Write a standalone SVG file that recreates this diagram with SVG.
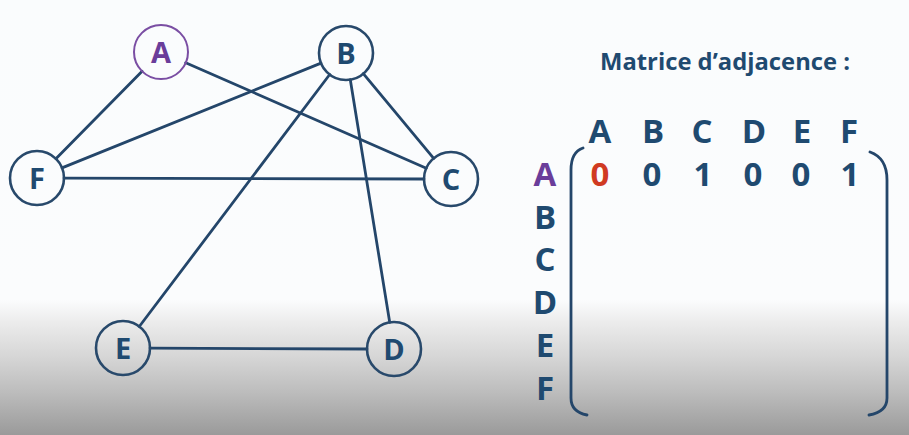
<svg xmlns="http://www.w3.org/2000/svg" width="909" height="435" viewBox="0 0 909 435">
<defs>
<linearGradient id="bg" x1="0" y1="0" x2="0" y2="435" gradientUnits="userSpaceOnUse">
<stop offset="0" stop-color="#fafcfd"/>
<stop offset="0.69" stop-color="#fbfcfd"/>
<stop offset="0.74" stop-color="#ececec"/>
<stop offset="0.82" stop-color="#d6d6d6"/>
<stop offset="0.9" stop-color="#bdbdbd"/>
<stop offset="1" stop-color="#9a9a9a"/>
</linearGradient>
<style>
.n{fill:none;stroke:#28496b;stroke-width:2.6}
.na{fill:none;stroke:#7a4ea3;stroke-width:2}
.e{stroke:#24466a;stroke-width:2.8;fill:none;stroke-linecap:round}
.t{font-family:"Open Sans","Noto Sans",sans-serif;font-weight:700;fill:#1f4a70;text-anchor:middle}
.nl{font-size:29px}
.m{font-size:33px}
.br{fill:none;stroke:#24466a;stroke-width:2.8;stroke-linecap:round}
</style>
</defs>
<rect x="0" y="0" width="909" height="435" fill="url(#bg)"/>
<g id="connectors">
<line class="e" x1="142.1" y1="71.2" x2="55.9" y2="158.8"/>
<line class="e" x1="185.7" y1="62.8" x2="426.3" y2="168.2"/>
<line class="e" x1="321" y1="63.1" x2="62" y2="167.9"/>
<line class="e" x1="329.7" y1="74.5" x2="139.3" y2="326.5"/>
<line class="e" x1="350.3" y1="79.7" x2="389.7" y2="322.3"/>
<line class="e" x1="363.3" y1="73.7" x2="433.7" y2="158.3"/>
<line class="e" x1="64" y1="178.1" x2="424" y2="179"/>
<line class="e" x1="150" y1="348.1" x2="367" y2="349"/>
</g>
<g id="node-A"><circle class="na" cx="161" cy="52" r="27"/><text class="t nl" x="161" y="62.5" style="fill:#6a3d9a">A</text></g>
<g id="node-B"><circle class="n" cx="346" cy="53" r="27"/><text class="t nl" x="346" y="63.5">B</text></g>
<g id="node-C"><circle class="n" cx="451" cy="179" r="27"/><text class="t nl" x="451" y="189.5">C</text></g>
<g id="node-D"><circle class="n" cx="394" cy="349" r="27"/><text class="t nl" x="394" y="359.5">D</text></g>
<g id="node-E"><circle class="n" cx="123" cy="348" r="27"/><text class="t nl" x="123" y="358.5">E</text></g>
<g id="node-F"><circle class="n" cx="37" cy="178" r="27"/><text class="t nl" x="37" y="188.5">F</text></g>
<g id="matrix">
<text class="t" x="725" y="70" style="font-size:22.5px" textLength="250" lengthAdjust="spacingAndGlyphs">Matrice d’adjacence :</text>
<text class="t m" x="600" y="143">A</text>
<text class="t m" x="653" y="143">B</text>
<text class="t m" x="702" y="143">C</text>
<text class="t m" x="754" y="143">D</text>
<text class="t m" x="802" y="143">E</text>
<text class="t m" x="849" y="143">F</text>
<text class="t m" x="545" y="186" style="fill:#6a3d9a">A</text>
<text class="t m" x="545" y="229">B</text>
<text class="t m" x="545" y="271">C</text>
<text class="t m" x="545" y="314">D</text>
<text class="t m" x="545" y="357">E</text>
<text class="t m" x="545" y="400">F</text>
<text class="t m" x="600" y="186" style="fill:#d03a22">0</text>
<text class="t m" x="652" y="186">0</text>
<text class="t m" x="703" y="186">1</text>
<text class="t m" x="753" y="186">0</text>
<text class="t m" x="801" y="186">0</text>
<text class="t m" x="850" y="186">1</text>
<path class="br" d="M583 148 Q571 152 571 170 L571 398 Q571 412 587 415"/>
<path class="br" d="M870 152 Q887 158 887 180 L887 398 Q887 412 869 415"/>
</g>
</svg>
